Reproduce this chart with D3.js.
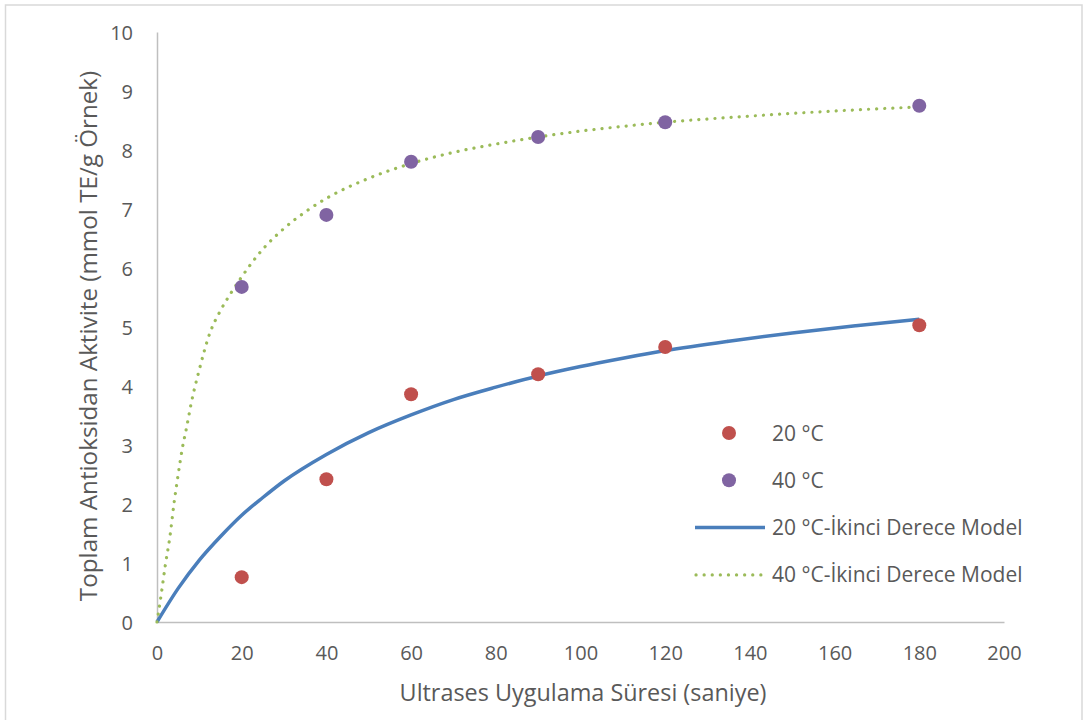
<!DOCTYPE html>
<html>
<head>
<meta charset="utf-8">
<script src="https://cdn.jsdelivr.net/npm/d3@7"></script>
<style>
  html, body { margin: 0; padding: 0; background: #fff; }
  svg { display: block; }
  text { font-family: "Open Sans", "Noto Sans", sans-serif; fill: #595959; }
</style>
</head>
<body>
<svg id="chart" width="1087" height="720"></svg>
<script>
// Measured antioxidant activity (mmol TE / g sample) vs. ultrasound time (s)
const times = [20, 40, 60, 90, 120, 180];
const obs20 = [0.76, 2.42, 3.86, 4.20, 4.66, 5.03];
const obs40 = [5.68, 6.90, 7.80, 8.22, 8.47, 8.75];

// Second-order model curves
const model20T = [0, 5, 10, 15, 20, 25, 30, 40, 50, 60, 70, 80, 90, 100, 110, 120, 135, 150, 165, 180];
const model20V = [0, 0.57, 1.05, 1.45, 1.81, 2.11, 2.39, 2.84, 3.21, 3.51, 3.77, 3.98, 4.17, 4.33, 4.47, 4.60, 4.76, 4.90, 5.02, 5.13];
const model40T = [0, 1, 2, 3, 4, 5, 6, 7, 8, 10, 12.5, 15, 17.5, 20, 25, 30, 35, 40, 50, 60, 70, 80, 90, 100, 110, 120, 135, 150, 165, 180];
const model40V = [0, 0.47, 0.98, 1.42, 2.0, 2.5, 2.95, 3.3, 3.68, 4.28, 4.9, 5.28, 5.58, 5.85, 6.32, 6.67, 6.95, 7.18, 7.52, 7.77, 7.96, 8.10, 8.22, 8.32, 8.40, 8.47, 8.55, 8.62, 8.68, 8.73];

const xTicks = [0, 20, 40, 60, 80, 100, 120, 140, 160, 180, 200];
const yTicks = [0, 1, 2, 3, 4, 5, 6, 7, 8, 9, 10];

const xTitle = "Ultrases Uygulama Süresi (saniye)";
const yTitle = "Toplam Antioksidan Aktivite (mmol TE/g Örnek)";
const legendLabels = ["20 °C", "40 °C", "20 °C-İkinci Derece Model", "40 °C-İkinci Derece Model"];

const colors = { red: "#c0504d", purple: "#8064a2", blue: "#4a7ebb", green: "#9bbb59" };

const svg = d3.select("#chart");

// outer chart frame
svg.append("rect")
  .attr("x", 5.5).attr("y", 5).attr("width", 1076.5).attr("height", 730)
  .attr("fill", "none").attr("stroke", "#d9d9d9").attr("stroke-width", 1.5);

const plotL = 157, plotR = 1004, plotT = 32, plotB = 622;
const x = d3.scaleLinear().domain([0, 200]).range([plotL, plotR]);
const y = d3.scaleLinear().domain([0, 10]).range([plotB, plotT]);

// axes (no tick marks, only labels)
const xAxis = d3.axisBottom(x).tickValues(xTicks).tickSize(0).tickPadding(24);
const yAxis = d3.axisLeft(y).tickValues(yTicks).tickSize(0).tickPadding(24);

const gx = svg.append("g").attr("transform", `translate(0,${plotB})`).call(xAxis);
const gy = svg.append("g").attr("transform", `translate(${plotL},0)`).call(yAxis);
[gx, gy].forEach(g => {
  g.select(".domain").attr("stroke", "#bfbfbf").attr("stroke-width", 1.5);
  g.selectAll("text").style("font-family", "'Open Sans', 'Noto Sans', sans-serif")
    .style("font-size", "20px").attr("fill", "#595959");
});
gx.selectAll("text").attr("dy", "0.71em");
gy.selectAll("text").attr("dy", "0.36em");

// axis titles
svg.append("text")
  .attr("x", 583).attr("y", 701)
  .attr("text-anchor", "middle").style("font-size", "23.4px")
  .text(xTitle);
svg.append("text")
  .attr("transform", `translate(97,336) rotate(-90)`)
  .attr("text-anchor", "middle").style("font-size", "24.2px")
  .text(yTitle);

// model lines
const line = d3.line().curve(d3.curveMonotoneX).x(d => x(d[0])).y(d => y(d[1]));
const m20 = model20T.map((t, i) => [t, model20V[i]]);
const m40 = model40T.map((t, i) => [t, model40V[i]]);

svg.append("path").datum(m20).attr("d", line)
  .attr("fill", "none").attr("stroke", colors.blue).attr("stroke-width", 3.5)
  .attr("stroke-linejoin", "round");
svg.append("path").datum(m40).attr("d", line)
  .attr("fill", "none").attr("stroke", colors.green).attr("stroke-width", 3.2)
  .attr("stroke-linecap", "round").attr("stroke-dasharray", "0.1 8");

// observed points
svg.append("g").selectAll("circle").data(times.map((t, i) => [t, obs20[i]])).join("circle")
  .attr("cx", d => x(d[0])).attr("cy", d => y(d[1])).attr("r", 7).attr("fill", colors.red);
svg.append("g").selectAll("circle").data(times.map((t, i) => [t, obs40[i]])).join("circle")
  .attr("cx", d => x(d[0])).attr("cy", d => y(d[1])).attr("r", 7).attr("fill", colors.purple);

// legend
const lg = svg.append("g").attr("transform", "translate(695,433)");
const rowH = 47.3;
legendLabels.forEach((label, i) => {
  const row = lg.append("g").attr("transform", `translate(0,${i * rowH})`);
  if (i === 0 || i === 1) {
    row.append("circle").attr("cx", 34).attr("cy", 0).attr("r", 7)
      .attr("fill", i === 0 ? colors.red : colors.purple);
  } else if (i === 2) {
    row.append("line").attr("x1", 0).attr("x2", 70).attr("y1", 0).attr("y2", 0)
      .attr("stroke", colors.blue).attr("stroke-width", 3.5);
  } else {
    row.append("line").attr("x1", 1).attr("x2", 70).attr("y1", 0).attr("y2", 0)
      .attr("stroke", colors.green).attr("stroke-width", 3.2)
      .attr("stroke-linecap", "round").attr("stroke-dasharray", "0.1 8");
  }
  row.append("text").attr("x", 77).attr("y", 0).attr("dy", "0.36em")
    .style("font-size", "21px").text(label);
});
</script>
</body>
</html>
